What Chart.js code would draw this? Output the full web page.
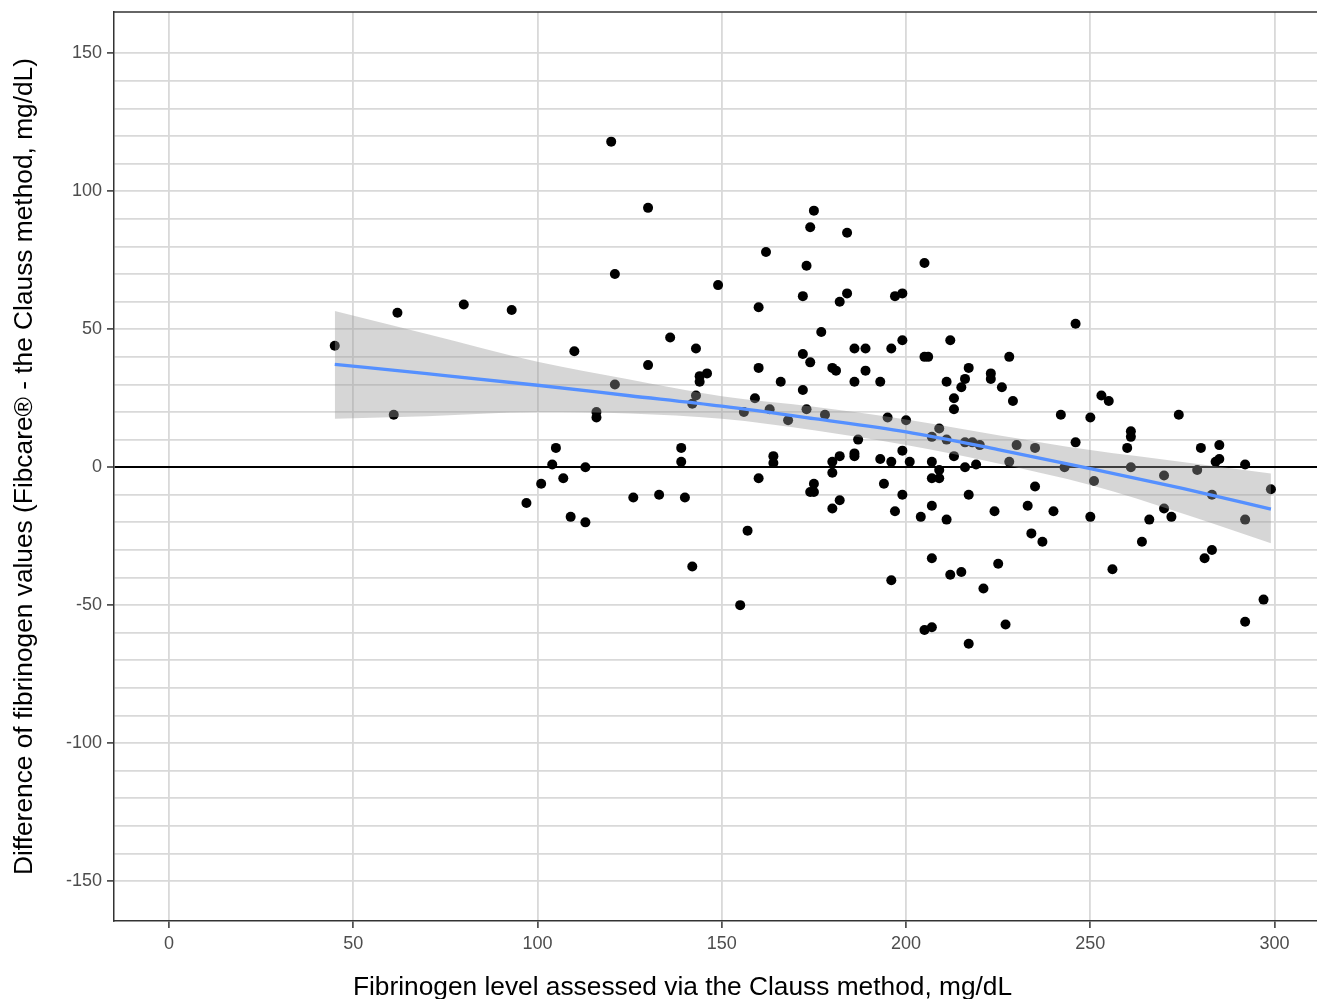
<!DOCTYPE html>
<html>
<head>
<meta charset="utf-8">
<script src="https://cdn.jsdelivr.net/npm/chart.js@4"></script>
<style>
html,body{margin:0;padding:0;background:#fff;}
#wrap{width:1317px;height:999px;}
</style>
</head>
<body>
<div id="wrap"><canvas id="c" width="1317" height="999"></canvas></div>
<script>
// Fibrinogen level (Clauss), mg/dL
const clauss = [45,61,62,80,93,97,101,104,105,107,109,110,113,113,116,116,120,121,121,126,
130,130,133,136,139,139,140,142,142,143,143,144,144,146,149,155,156,157,159,160,
160,160,162,163,164,164,166,168,172,172,172,173,173,174,174,174,175,175,175,177,
178,180,180,180,180,181,182,182,182,184,184,186,186,186,186,187,189,189,193,193,
194,195,196,196,196,197,197,199,199,199,199,200,201,204,205,205,205,206,207,207,
207,207,207,207,209,209,209,211,211,211,212,212,213,213,213,215,215,216,216,216,
217,217,217,218,219,220,221,223,223,224,225,226,227,228,228,229,230,233,234,235,
235,237,240,242,243,246,246,250,250,251,253,255,256,260,261,261,261,264,266,270,
270,272,274,279,280,281,283,283,284,285,285,292,292,292,297,299];
// Difference (Fibcare - Clauss), mg/dL
const diff = [44,19,56,59,57,-13,-6,1,7,-4,-18,42,0,-20,20,18,118,70,30,-11,
37,94,-10,47,7,2,-11,23,-36,43,26,33,31,34,66,-50,20,-23,25,58,
36,-4,78,21,4,1.5,31,17,62,41,28,73,21,87,38,-9,93,-6,-9,49,
19,36,2,-2,-15,35,60,4,-12,85,63,43,31,5,4,10,43,35,31,3,
-6,18,43,2,-41,62,-16,63,46,6,-10,17,2,-18,74,40,-59,40,11,2,
-4,-14,-33,-58,14,-1,-4,31,10,-19,46,-39,25,21,4,29,-38,32,9,0,
36,-10,-64,9,1,8,-44,34,32,-16,-35,29,-57,40,2,24,8,-14,-24,7,
-7,-27,-16,19,0,52,9,18,-18,-5,26,24,-37,7,13,11,0,-27,-19,-3,
-15,-18,19,-1,7,-33,-10,-30,2,8,3,1,-19,-56,-48,-8];
// Smoothed fit and its confidence band
const fitX      = [45,   70,   100,  125,  150,  175,  200,  225,  250,  275,   299];
const fitY      = [37.3, 33.9, 29.7, 25.9, 22.1, 17.6, 12.8, 6.4,  -0.5, -7.7,  -15.2];
const bandUpper = [56.6, 48.3, 38.2, 31.8, 25.7, 21.9, 17.3, 11.6, 6.2,  1.9,   -2.3];
const bandLower = [17.6, 18.5, 20.0, 19.5, 17.6, 13.4, 8.0,  1.3,  -6.5, -16.8, -27.6];
// Axis ticks
const xTicks = [0,50,100,150,200,250,300];
const yGrid = [-150,-140,-130,-120,-110,-100,-90,-80,-70,-60,-50,-40,-30,-20,-10,0,
10,20,30,40,50,60,70,80,90,100,110,120,130,140,150];
const yLabels = [-150,-100,-50,0,50,100,150];
const xTitle = 'Fibrinogen level assessed via the Clauss method, mg/dL';
const yTitle = 'Difference of fibrinogen values (Fibcare® - the Clauss method, mg/dL)';

const FONT = "'Liberation Sans', Arial, Helvetica, sans-serif";
Chart.defaults.font.family = FONT;

const extras = {
  id: 'extras',
  afterDraw(chart) {
    const {ctx, chartArea: a} = chart;
    ctx.save();
    ctx.strokeStyle = '#333333';
    ctx.lineWidth = 1.5;
    ctx.beginPath();
    ctx.moveTo(a.left, a.top);
    ctx.lineTo(a.right, a.top);
    ctx.stroke();
    ctx.fillStyle = '#000000';
    ctx.font = '26.3px ' + FONT;
    ctx.textAlign = 'center';
    ctx.textBaseline = 'alphabetic';
    ctx.fillText(xTitle, 682.5, 995);
    ctx.restore();
  }
};

new Chart(document.getElementById('c'), {
  type: 'line',
  data: {
    datasets: [
      {
        label: 'points',
        data: clauss.map((x, i) => ({x: x, y: diff[i]})),
        showLine: false,
        pointRadius: 5,
        pointBackgroundColor: '#000000',
        pointBorderWidth: 0,
        pointBorderColor: 'rgba(0,0,0,0)',
        order: 3
      },
      {
        label: 'upper',
        data: fitX.map((x, i) => ({x: x, y: bandUpper[i]})),
        borderColor: 'rgba(0,0,0,0)',
        borderWidth: 1,
        pointRadius: 0,
        fill: false,
        cubicInterpolationMode: 'monotone',
        order: 2
      },
      {
        label: 'lower',
        data: fitX.map((x, i) => ({x: x, y: bandLower[i]})),
        borderColor: 'rgba(0,0,0,0)',
        borderWidth: 1,
        pointRadius: 0,
        fill: '-1',
        backgroundColor: 'rgba(153,153,153,0.4)',
        cubicInterpolationMode: 'monotone',
        order: 2
      },
      {
        label: 'fit',
        data: fitX.map((x, i) => ({x: x, y: fitY[i]})),
        borderColor: '#5590ff',
        borderWidth: 3.3,
        pointRadius: 0,
        fill: false,
        cubicInterpolationMode: 'monotone',
        order: 1
      }
    ]
  },
  options: {
    responsive: false,
    animation: false,
    devicePixelRatio: 1,
    events: [],
    layout: {autoPadding: false, padding: {top: 12, right: 0, left: 0, bottom: 0}},
    plugins: {legend: {display: false}, tooltip: {enabled: false}},
    scales: {
      x: {
        type: 'linear',
        min: -14.9,
        max: 311.5,
        afterBuildTicks: s => { s.ticks = xTicks.map(v => ({value: v})); },
        afterFit: s => { s.height = 78; s.paddingLeft = 0; s.paddingRight = 0; },
        grid: {color: '#d9d9d9', lineWidth: 1.8, drawTicks: true, tickLength: 7, tickColor: '#333333', tickWidth: 1.5},
        border: {display: true, color: '#333333', width: 1.5},
        ticks: {font: {size: 18}, color: '#4d4d4d', padding: 5, maxRotation: 0, autoSkip: false},
        title: {display: false}
      },
      y: {
        type: 'linear',
        min: -164.5,
        max: 165,
        afterBuildTicks: s => { s.ticks = yGrid.map(v => ({value: v})); },
        afterFit: s => { s.width = 114; s.paddingTop = 0; s.paddingBottom = 0; },
        grid: {
          color: c => (c.tick && c.tick.value === 0) ? '#000000' : '#d9d9d9',
          lineWidth: c => (c.tick && c.tick.value === 0) ? 2 : 1.8,
          drawTicks: true,
          tickLength: 7,
          tickWidth: 1.5,
          tickColor: c => (c.tick && yLabels.includes(c.tick.value)) ? '#333333' : 'rgba(0,0,0,0)'
        },
        border: {display: true, color: '#333333', width: 1.5},
        ticks: {
          callback: v => yLabels.includes(v) ? String(v) : '',
          font: {size: 18}, color: '#4d4d4d', padding: 5, autoSkip: false
        },
        title: {display: true, text: yTitle, font: {size: 26.3, lineHeight: 1}, color: '#000000', padding: {top: 12, bottom: 0}}
      }
    }
  },
  plugins: [extras]
});
</script>
</body>
</html>
